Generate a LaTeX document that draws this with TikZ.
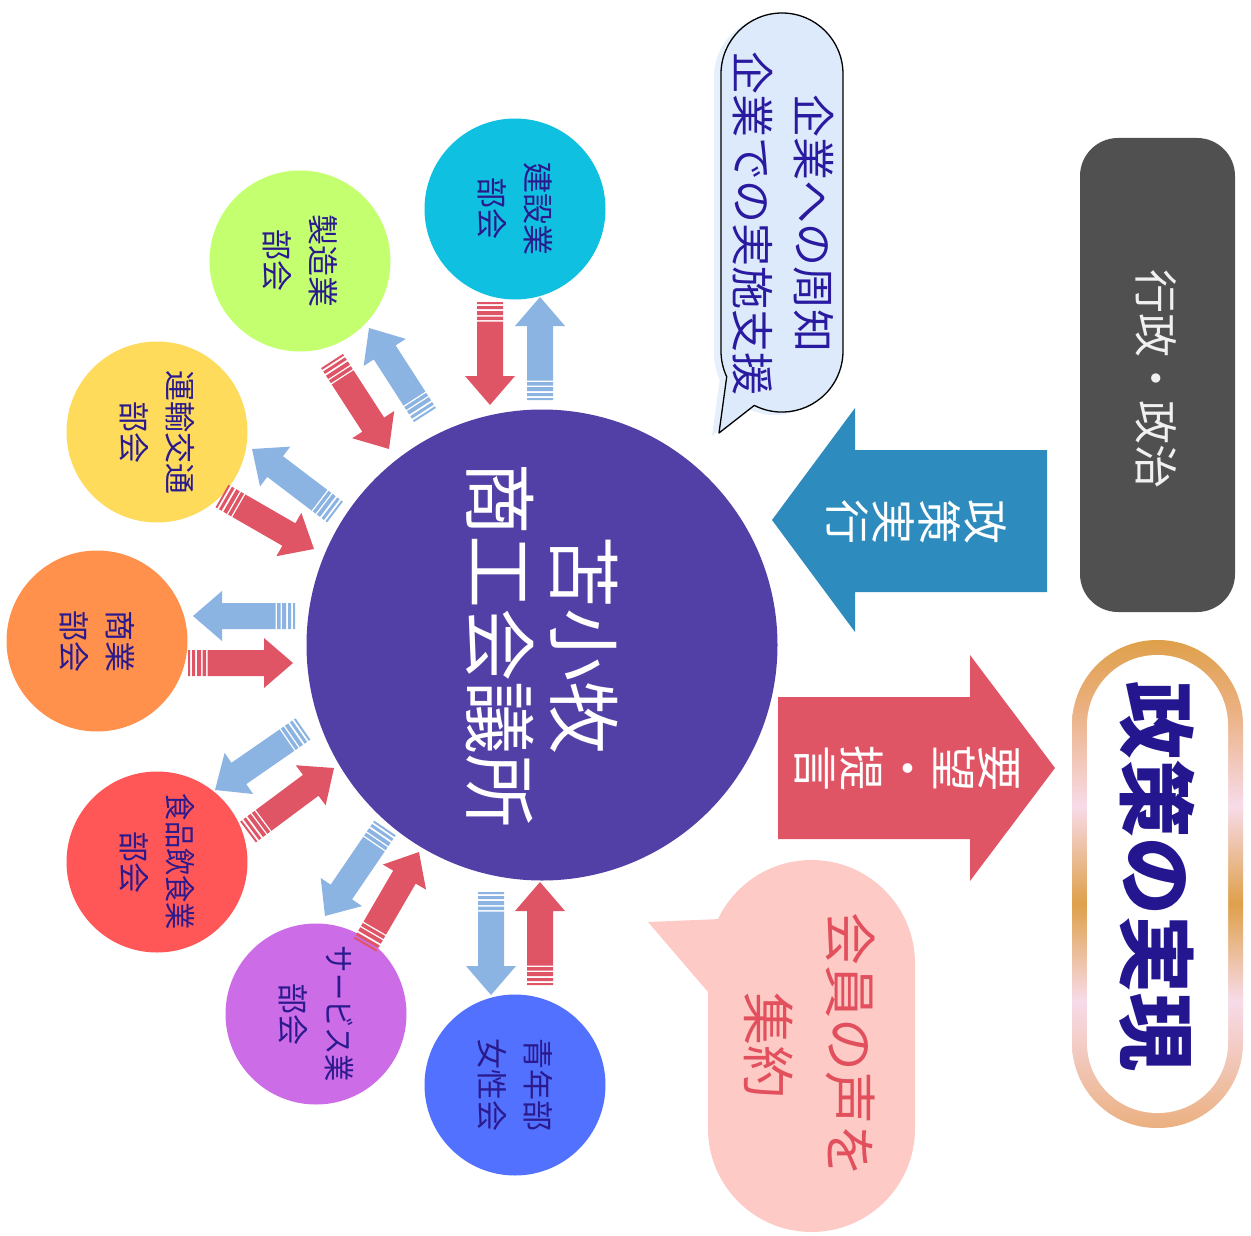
\documentclass[tikz,border=0pt]{standalone}
\usepackage{graphicx}
\usepackage{fontspec}
\setmainfont{Noto Sans CJK JP}
\definecolor{maincol}{HTML}{5340A6}
\definecolor{cA}{HTML}{10C0E0}
\definecolor{cB}{HTML}{C3FF6E}
\definecolor{cC}{HTML}{FFDB5C}
\definecolor{cD}{HTML}{FF914D}
\definecolor{cE}{HTML}{FF5757}
\definecolor{cF}{HTML}{CC6CE6}
\definecolor{cG}{HTML}{5271FF}
\definecolor{navy}{HTML}{2B1A8E}
\definecolor{arred}{HTML}{E05566}
\definecolor{arblue}{HTML}{8BB4E3}
\definecolor{bigblue}{HTML}{2E8BBD}
\definecolor{bigred}{HTML}{E05565}
\definecolor{govgray}{HTML}{505050}
\definecolor{govtext}{HTML}{F0F0F0}
\definecolor{bubblue}{HTML}{DCEAFB}
\definecolor{bubglow}{HTML}{E6F0FC}
\definecolor{bubtext}{HTML}{2A1AA0}
\definecolor{pinkbub}{HTML}{FDCAC5}
\definecolor{pinktext}{HTML}{E2505E}
\definecolor{goaltext}{HTML}{23168F}
\definecolor{frA}{HTML}{EBB080}
\definecolor{frB}{HTML}{F7DBE9}
\definecolor{frC}{HTML}{DFA04A}
\pgfdeclareverticalshading{frameshade}{100bp}{color(0bp)=(frA); color(25bp)=(frA); color(38bp)=(frB); color(48bp)=(frC); color(58bp)=(frB); color(68bp)=(frA); color(75bp)=(frC); color(100bp)=(frC)}
% striped arrow: #1 colour, tail (#2,#3), tip (#4,#5) in image pixels
\newcommand\stripearrow[5]{%
  \pgfmathsetmacro\saAng{atan2(#3-#5,#4-#2)}%
  \pgfmathsetmacro\saLen{veclen(#4-#2,#5-#3)}%
  \pgfmathsetmacro\saHb{\saLen-29}%
  \begin{scope}[shift={(#2,-#3)},rotate=\saAng]
    \fill[#1] (0,-13) rectangle (2,13) (4,-13) rectangle (7,13)
      (9,-13) rectangle (13,13) (14.5,-13) rectangle (18,13);
    \fill[#1] (19.5,-13) -- (\saHb,-13) -- (\saHb,-25) -- (\saLen,0)
      -- (\saHb,25) -- (\saHb,13) -- (19.5,13) -- cycle;
  \end{scope}}
\begin{document}
\begin{tikzpicture}[x=1pt,y=1pt,
  subc/.style={circle, minimum size=181pt, inner sep=0pt, rotate=-90, align=center,
    text=navy, font=\fontsize{31}{46}\selectfont},
  rtext/.style={rotate=-90, align=center, inner sep=0pt}]
\useasboundingbox (0,0) rectangle (1251,-1236);
\fill[white] (0,0) rectangle (1251,-1236);

% main circle
\node[circle, minimum size=471pt, inner sep=0pt, fill=maincol, rotate=-90, align=center,
  text=white, font=\fontsize{73}{84}\selectfont] (main) at (542,-645) {苫小牧\\商工会議所};

% sub circles
\node[subc, fill=cA] (kensetsu) at (515,-209) {建設業\\部会};
\node[subc, fill=cB] (seizou) at (300,-261) {製造業\\部会};
\node[subc, fill=cC] (unyu) at (157,-432) {運輸交通\\部会};
\node[subc, fill=cD] (shougyou) at (97,-641) {商業\\部会};
\node[subc, fill=cE] (shokuhin) at (157,-862) {\scalebox{0.88}[1]{食品飲食業}\\部会};
\node[subc, fill=cF] (service) at (316,-1014) {\scalebox{0.88}[1]{サービス業}\\部会};
\node[subc, fill=cG] (seinen) at (515,-1085) {青年部\\女性会};

% striped arrows (red: to centre, blue: to section)
\stripearrow{arred}{490}{302}{490}{405}
\stripearrow{arblue}{540}{400}{540}{297}
\stripearrow{arred}{332}{361}{389}{449}
\stripearrow{arblue}{425}{415}{369}{328}
\stripearrow{arred}{222}{496}{314}{549}
\stripearrow{arblue}{335}{512}{252}{449}
\stripearrow{arred}{188}{663}{293}{663}
\stripearrow{arblue}{295}{616}{193}{616}
\stripearrow{arred}{248}{832}{334}{768}
\stripearrow{arblue}{303}{729}{215}{790}
\stripearrow{arred}{365}{945}{419}{852}
\stripearrow{arblue}{385}{828}{325}{916}
\stripearrow{arred}{540}{985}{540}{882}
\stripearrow{arblue}{491}{892}{491}{995}

% blue speech bubble
\begin{scope}[xshift=-7pt,yshift=-3pt]
\fill[bubglow] (721,-351) arc[start angle=180,end angle=205,radius=61] -- (719,-433)
  -- (754.3,-405.4) arc[start angle=243,end angle=360,radius=61] -- (843,-74)
  arc[start angle=0,end angle=180,radius=61] -- cycle;
\end{scope}
\draw[fill=bubblue, line width=1.3pt, line join=round] (721,-351) arc[start angle=180,end angle=205,radius=61] -- (719,-433)
  -- (754.3,-405.4) arc[start angle=243,end angle=360,radius=61] -- (843,-74)
  arc[start angle=0,end angle=180,radius=61] -- cycle;
\node[rtext, text=bubtext, font=\fontsize{43}{61}\selectfont] (notice) at (783,-224) {企業への周知\\企業での実施支援};

% pink speech bubble
\fill[pinkbub] (915,-963.5) arc[start angle=0,end angle=154.6,radius=103.5] -- (648,-922)
  -- (708,-992) -- (708,-1128.5) arc[start angle=180,end angle=360,radius=103.5] -- cycle;
\node[rtext, text=pinktext, font=\fontsize{53}{82}\selectfont] (voice) at (810,-1045) {会員の声を\\集約};

% government box
\node[fill=govgray, rounded corners=38pt, minimum width=155pt, minimum height=474pt, inner sep=0pt] (govbox) at (1157.5,-375) {};
\node[rtext, text=govtext, font=\fontsize{44}{50}\selectfont] (gov) at (1156,-379) {行政・政治};

% big arrows
\fill[bigblue] (1047,-450) -- (855,-450) -- (855,-408) -- (772,-520) -- (855,-632) -- (855,-592) -- (1047,-592) -- cycle;
\node[rtext, text=white, font=\fontsize{45}{46}\selectfont] (exec) at (917,-522) {政\\策\\実\\行};
\fill[bigred] (778,-697) -- (970,-697) -- (970,-655) -- (1055,-768) -- (970,-881) -- (970,-839) -- (778,-839) -- cycle;
\node[rtext, text=white, font=\fontsize{46}{46}\selectfont] (request) at (907,-768) {要\\望\\・\\提\\言};

% goal frame
\shade[shading=frameshade, rounded corners=85pt] (1072,-640) rectangle (1243,-1128);
\fill[white, rounded corners=70pt] (1087,-655) rectangle (1228,-1113);
\node[rtext, text=goaltext, font=\fontsize{78}{80}\selectfont\bfseries] (goal) at (1157,-876) {政策の実現};
\end{tikzpicture}
\end{document}
